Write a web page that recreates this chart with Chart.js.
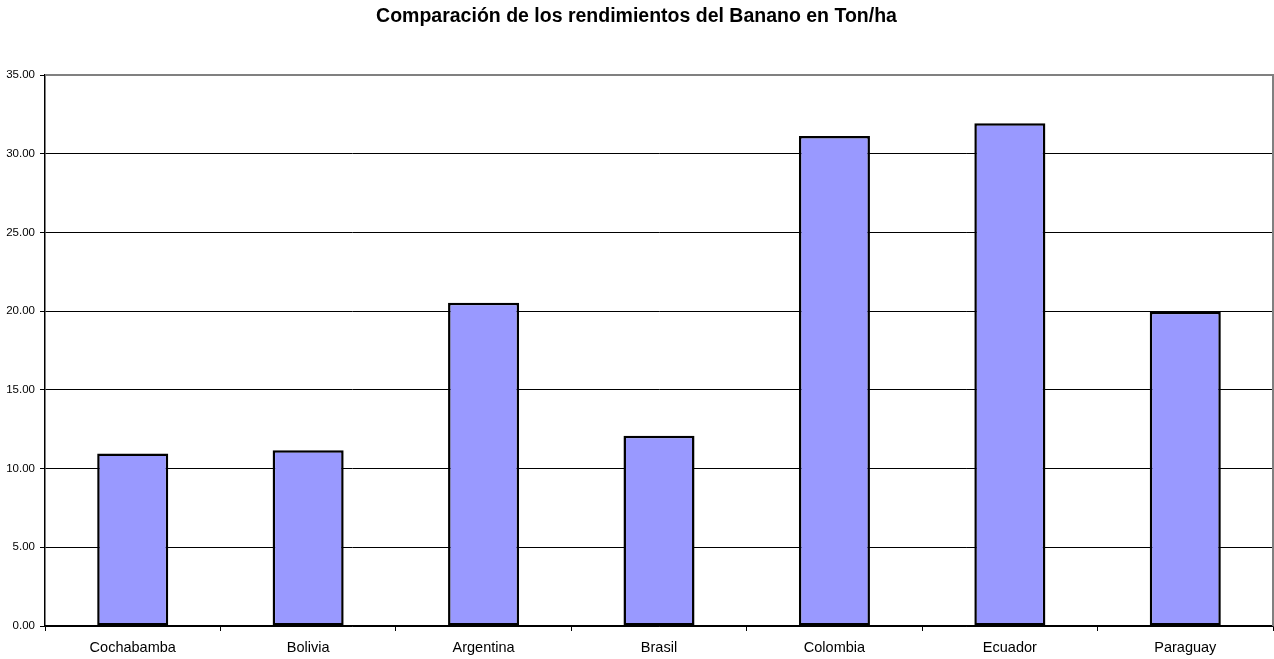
<!DOCTYPE html>
<html>
<head>
<meta charset="utf-8">
<script src="https://cdn.jsdelivr.net/npm/chart.js@4/dist/chart.umd.min.js"></script>
<style>
  html, body { margin: 0; padding: 0; background: #fff; }
  #wrap { width: 1274px; height: 659px; }
</style>
</head>
<body>
<div id="wrap"><canvas id="chart"></canvas></div>
<script>
// Datos del gráfico
const paises = ['Cochabamba', 'Bolivia', 'Argentina', 'Brasil', 'Colombia', 'Ecuador', 'Paraguay'];
const rendimientos = [10.96, 11.17, 20.53, 12.08, 31.13, 31.94, 19.96];
const ticksY = [0, 5, 10, 15, 20, 25, 30, 35];

// Borde gris del área de trazado (arriba y derecha)
const bordePlot = {
  id: 'bordePlot',
  afterDraw(chart) {
    const { ctx, chartArea: a } = chart;
    ctx.save();
    ctx.strokeStyle = '#808080';
    ctx.lineWidth = 2;
    ctx.beginPath();
    ctx.moveTo(a.left, a.top);
    ctx.lineTo(a.right, a.top);
    ctx.lineTo(a.right, a.bottom);
    ctx.stroke();
    ctx.restore();
  }
};

const fuente = "Arial, 'Liberation Sans', sans-serif";

new Chart(document.getElementById('chart'), {
  type: 'bar',
  data: {
    labels: paises,
    datasets: [{
      data: rendimientos,
      backgroundColor: '#9999FF',
      borderColor: '#000000',
      borderWidth: 2.5,
      borderSkipped: false,
      categoryPercentage: 1,
      barPercentage: 0.405
    }]
  },
  options: {
    responsive: true,
    maintainAspectRatio: false,
    animation: false,
    layout: { padding: { left: 0, right: 1, top: 0, bottom: 0 } },
    plugins: {
      legend: { display: false },
      tooltip: { enabled: false },
      title: {
        display: true,
        text: 'Comparación de los rendimientos del Banano en Ton/ha',
        color: '#000',
        font: { family: fuente, size: 19.5, weight: 'bold' },
        padding: { top: 5, bottom: 46.6 }
      }
    },
    scales: {
      x: {
        afterFit(scale) { scale.height = 33; },
        grid: {
          offset: true,
          drawOnChartArea: false,
          drawTicks: true,
          tickLength: 5,
          color: '#000'
        },
        border: { color: '#000', width: 1.5 },
        ticks: {
          color: '#000',
          padding: 8,
          font: { family: fuente, size: 14.5 }
        }
      },
      y: {
        min: 0,
        max: 35,
        afterFit(scale) { scale.width = 45; },
        afterBuildTicks(scale) {
          scale.ticks = ticksY.map(v => ({ value: v }));
        },
        grid: {
          color: '#000',
          lineWidth: 1,
          tickLength: 5
        },
        border: { color: '#000', width: 1.5 },
        ticks: {
          color: '#000',
          padding: 5,
          font: { family: fuente, size: 11.5 },
          callback: v => Number(v).toFixed(2)
        }
      }
    }
  },
  plugins: [bordePlot]
});
</script>
</body>
</html>
